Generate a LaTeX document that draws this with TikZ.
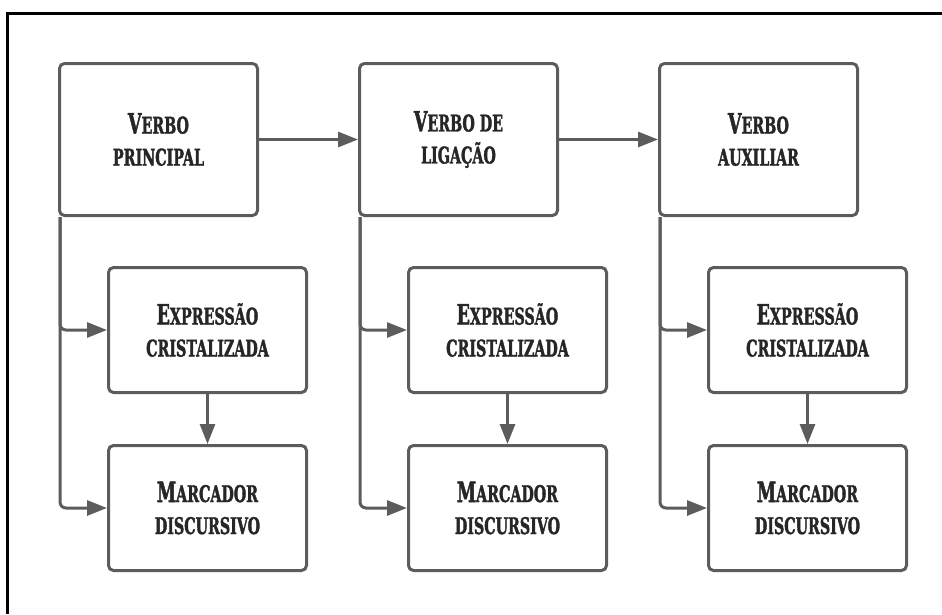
\documentclass[tikz,border=0pt]{standalone}
\usepackage{fontspec}
\newfontfamily\lblfont{DejaVu Serif}[FakeStretch=0.62,BoldFeatures={FakeBold=1.5}]
\usetikzlibrary{arrows.meta,positioning}
\definecolor{linegray}{HTML}{5C5C5C}
\definecolor{textgray}{HTML}{262626}
% fake small caps for the labels
\newcommand\capsm[1]{{\fontsize{23}{32}\selectfont\MakeUppercase{#1}}}
\tikzset{
    %Define standard arrow tip
    >={Triangle[length=20pt,width=15pt]},
    %Define style for boxes
    caixa/.style={
           rectangle,
           rounded corners=5pt,
           draw=linegray, line width=3pt,
           minimum width=198pt,
           minimum height=125pt,
           text=textgray,
           font=\lblfont\bfseries\fontsize{28}{32}\selectfont,
           align=center},
    caixatopo/.style={
           caixa,
           minimum height=152pt},
    % Define arrow style
    seta/.style={
           ->,
           draw=linegray,
           line width=3pt,
           rounded corners=6pt}
}
\begin{document}
\begin{tikzpicture}[x=1pt,y=-1pt]
\useasboundingbox (0,0) rectangle (942,614);
\draw[line width=3pt] (7,614) -- (7,13) -- (942,13);
\node[caixatopo] (v1) at (158.5,139.5) {V\capsm{erbo}\\\capsm{principal}};
\node[caixatopo, right=99pt of v1] (v2) {V\capsm{erbo de}\\\capsm{ligação}};
\node[caixatopo, right=99pt of v2] (v3) {V\capsm{erbo}\\\capsm{auxiliar}};
\node[caixa, below right=49pt and 49pt of v1.south west] (e1) {E\capsm{xpressão}\\\capsm{cristalizada}};
\node[caixa, below right=49pt and 49pt of v2.south west] (e2) {E\capsm{xpressão}\\\capsm{cristalizada}};
\node[caixa, below right=49pt and 49pt of v3.south west] (e3) {E\capsm{xpressão}\\\capsm{cristalizada}};
\node[caixa, below=50pt of e1] (m1) {M\capsm{arcador}\\\capsm{discursivo}};
\node[caixa, below=50pt of e2] (m2) {M\capsm{arcador}\\\capsm{discursivo}};
\node[caixa, below=50pt of e3] (m3) {M\capsm{arcador}\\\capsm{discursivo}};
\draw[seta] (v1) -- (v2);
\draw[seta] (v2) -- (v3);
\foreach \i in {1,2,3}{
  \draw[seta] ([xshift=2pt]v\i.south west) |- (e\i.west);
  \draw[seta] ([xshift=2pt]v\i.south west) |- (m\i.west);
  \draw[seta] (e\i) -- (m\i);
}
\end{tikzpicture}
\end{document}
